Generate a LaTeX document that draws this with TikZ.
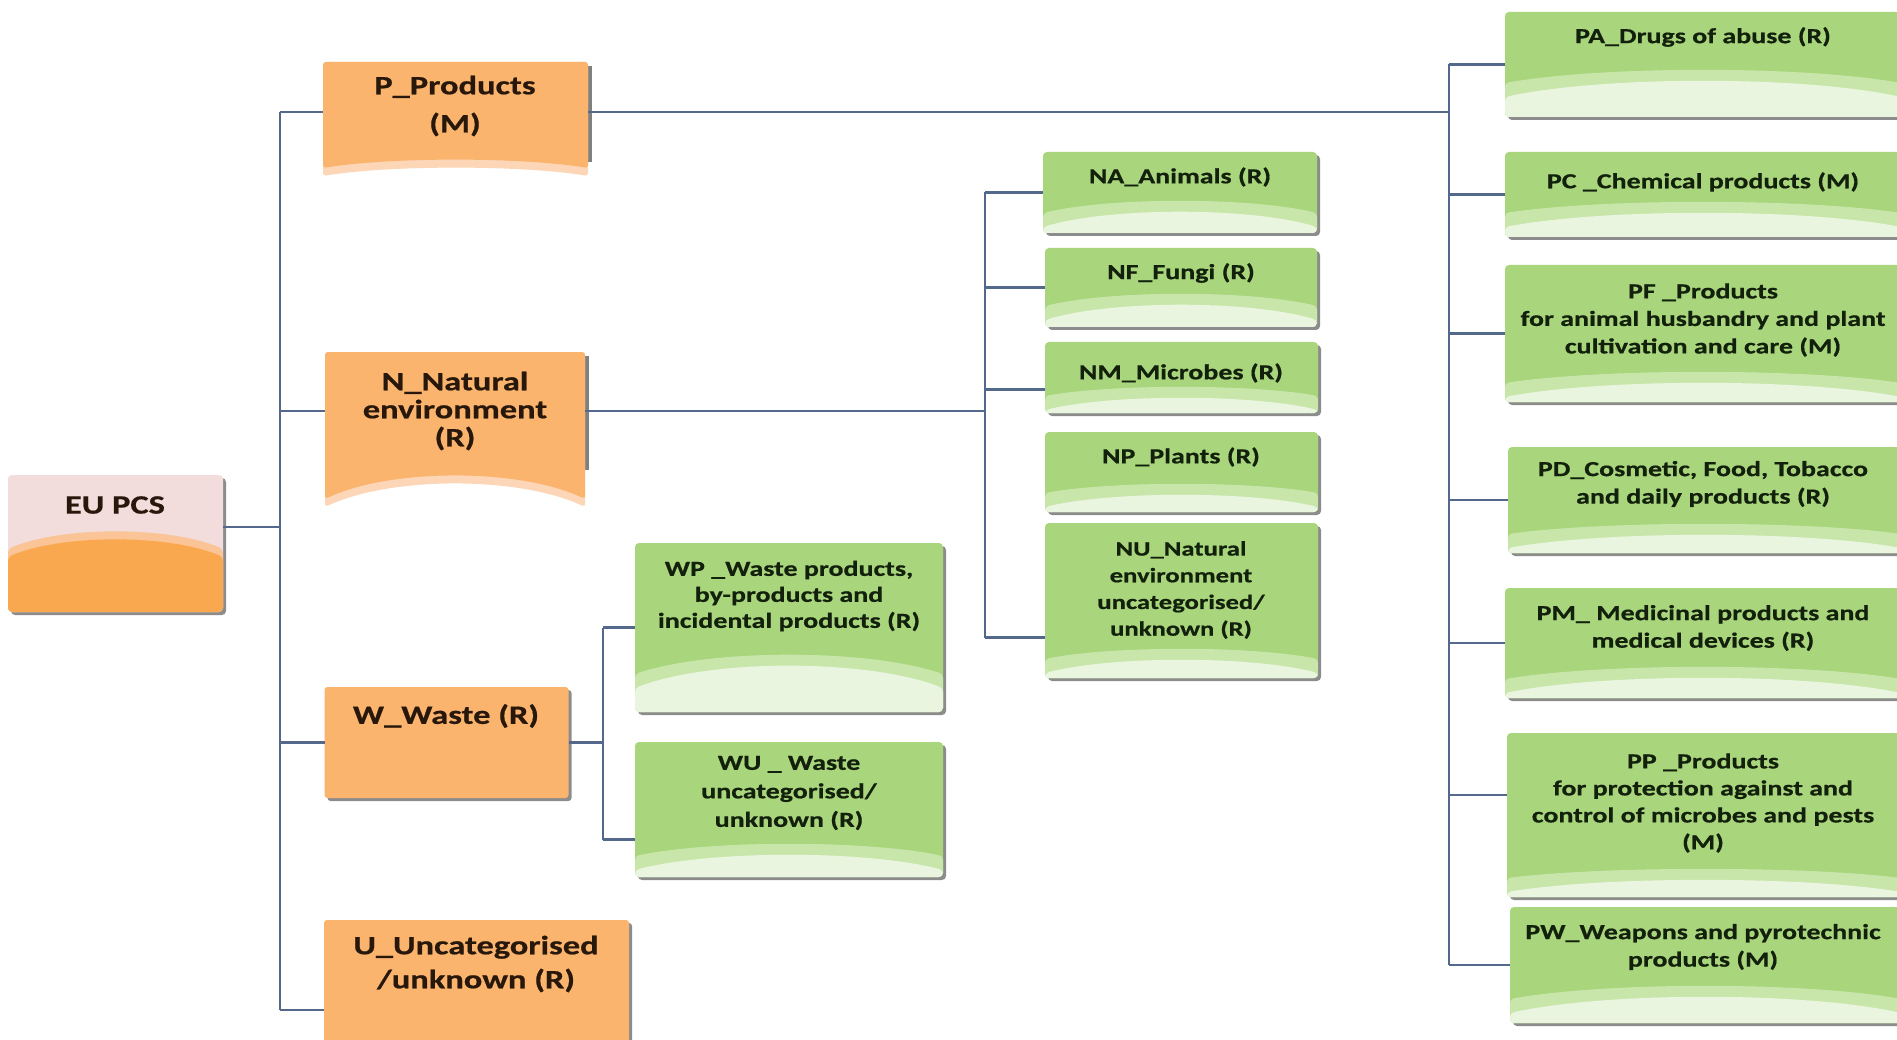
\documentclass[tikz,border=0pt]{standalone}
\usepackage{fontspec}
\newfontfamily\boxfont{Carlito}[FakeStretch=1.3, FakeBold=0.6]
\usetikzlibrary{calc,shadows}
\pgfdeclarelayer{bg}
\pgfsetlayers{bg,main}
\definecolor{lnc}{RGB}{84,104,140}
\definecolor{gA}{RGB}{169,213,125}
\definecolor{gB}{RGB}{200,230,170}
\definecolor{gC}{RGB}{234,245,224}
\definecolor{oA}{RGB}{250,180,110}
\definecolor{oB}{RGB}{252,214,182}
\definecolor{pinkc}{RGB}{242,221,220}
\definecolor{oD}{RGB}{249,168,80}
\definecolor{oE}{RGB}{250,196,150}
\definecolor{shc}{RGB}{128,128,128}
\definecolor{txo}{RGB}{40,24,12}
\definecolor{txg}{RGB}{18,32,12}
\def\domeC{20}\def\domeE{6}
\tikzset{
  conn/.style={draw=lnc, line width=2.2pt},
  dome/.code 2 args={\def\domeC{#1}\def\domeE{#2}},
  gbox/.style={rectangle, rounded corners=4pt, fill=gA, inner sep=0pt, outer sep=0pt,
    drop shadow={shadow xshift=3pt, shadow yshift=-3pt, fill=shc, opacity=0.9},
    path picture={
      \fill[gB] let \p1=(path picture bounding box.south west), \p2=(path picture bounding box.north east),
        \n1={\domeE+14}, \n2={(\domeC+11-0.25*(\domeE+14))/0.75} in
        (\x1,\y1+\n1 pt) .. controls ({0.75*\x1+0.25*\x2},\y1+\n2 pt) and ({0.25*\x1+0.75*\x2},\y1+\n2 pt) .. (\x2,\y1+\n1 pt) -- (\x2,\y1) -- (\x1,\y1) -- cycle;
      \fill[gC] let \p1=(path picture bounding box.south west), \p2=(path picture bounding box.north east),
        \n1={\domeE}, \n2={(\domeC-0.25*\domeE)/0.75} in
        (\x1,\y1+\n1 pt) .. controls ({0.75*\x1+0.25*\x2},\y1+\n2 pt) and ({0.25*\x1+0.75*\x2},\y1+\n2 pt) .. (\x2,\y1+\n1 pt) -- (\x2,\y1) -- (\x1,\y1) -- cycle;
    }},
  eubox/.style={rectangle, rounded corners=4pt, fill=pinkc, inner sep=0pt, outer sep=0pt,
    drop shadow={shadow xshift=3pt, shadow yshift=-3pt, fill=shc, opacity=0.9},
    path picture={
      \fill[oE] let \p1=(path picture bounding box.south west), \p2=(path picture bounding box.north east) in
        (\x1,\y1+63pt) .. controls ({0.75*\x1+0.25*\x2},\y1+86pt) and ({0.25*\x1+0.75*\x2},\y1+86pt) .. (\x2,\y1+63pt) -- (\x2,\y1) -- (\x1,\y1) -- cycle;
      \fill[oD] let \p1=(path picture bounding box.south west), \p2=(path picture bounding box.north east) in
        (\x1,\y1+55pt) .. controls ({0.75*\x1+0.25*\x2},\y1+78pt) and ({0.25*\x1+0.75*\x2},\y1+78pt) .. (\x2,\y1+55pt) -- (\x2,\y1) -- (\x1,\y1) -- cycle;
    }},
  obox/.style={rectangle, rounded corners=3pt, fill=oA, inner sep=0pt, outer sep=0pt,
    drop shadow={shadow xshift=3pt, shadow yshift=-3pt, fill=shc, opacity=0.9}},
  cbox/.style={rectangle, inner sep=0pt, outer sep=0pt},
  otext/.style={align=center, text=txo, inner sep=0pt,
    font={\boxfont\bfseries\fontsize{26.5}{28}\selectfont}},
  gtext/.style={align=center, text=txg, inner sep=0pt,
    font={\boxfont\bfseries\fontsize{21.5}{27.5}\selectfont}},
}
% #1 node, #2 corner extension below node, #3 control height (cubic)
\newcommand\concavefill[3]{%
  \fill[shc] ($(#1.north east)+(0,4)$) rectangle ($(#1.south east)+(4,0)$);
  \fill[oB, rounded corners=3pt] (#1.north west) -- (#1.north east) -- ($(#1.south east)+(0,#2)$)
    .. controls ($(#1.south)!0.5!(#1.south east)+(0,#3)$) and ($(#1.south)!0.5!(#1.south west)+(0,#3)$) .. ($(#1.south west)+(0,#2)$) -- cycle;
  \fill[oA, rounded corners=3pt] (#1.north west) -- (#1.north east) -- ($(#1.south east)+(0,#2-8)$)
    .. controls ($(#1.south)!0.5!(#1.south east)+(0,#3-8)$) and ($(#1.south)!0.5!(#1.south west)+(0,#3-8)$) .. ($(#1.south west)+(0,#2-8)$) -- cycle;
}
\begin{document}
\begin{tikzpicture}[x=1pt, y=-1pt]
\begin{pgfonlayer}{bg}
  \fill[white] (0,0) rectangle (1897,1040);
\end{pgfonlayer}
\clip (0,0) rectangle (1897,1040);

% level 0 and 1
\node[eubox, minimum width=215, minimum height=137] (EU) at (115.5,543.5) {};
\node[cbox, minimum width=265, minimum height=100] (P) at (455.5,112) {};
\node[cbox, minimum width=260, minimum height=118] (N) at (455,411) {};
\node[obox, minimum width=244, minimum height=111] (W) at (446.5,742.5) {};
\node[obox, minimum width=305, minimum height=180] (U) at (476.5,1010) {};
\begin{pgfonlayer}{bg}
  \concavefill{P}{14}{3}
  \concavefill{N}{37}{6}
\end{pgfonlayer}

% natural environment children
\node[gbox, dome={21}{6}, minimum width=274, minimum height=81] (NA) at (1180,192.5) {};
\node[gbox, dome={22}{7}, minimum width=272, minimum height=79] (NF) at (1181,287.5) {};
\node[gbox, dome={15}{3}, minimum width=273, minimum height=71] (NM) at (1181.5,377.5) {};
\node[gbox, dome={17}{5}, minimum width=273, minimum height=80] (NP) at (1181.5,472) {};
\node[gbox, dome={18}{5}, minimum width=273, minimum height=155] (NU) at (1181.5,600.5) {};

% waste children
\node[gbox, dome={46}{24}, minimum width=308, minimum height=169] (WP) at (789,627.5) {};
\node[gbox, dome={22}{7}, minimum width=308, minimum height=135] (WU) at (789,809.5) {};

% products children
\node[gbox, dome={36}{20}, minimum width=396, minimum height=105] (PA) at (1703,64.5) {};
\node[gbox, dome={24}{10}, minimum width=396, minimum height=85] (PC) at (1703,194.5) {};
\node[gbox, dome={19}{5}, minimum width=396, minimum height=137] (PF) at (1703,333.5) {};
\node[gbox, dome={18}{5}, minimum width=393, minimum height=106] (PD) at (1704.5,500) {};
\node[gbox, dome={20}{5}, minimum width=396, minimum height=110] (PM) at (1703,643) {};
\node[gbox, dome={17}{5}, minimum width=394, minimum height=164] (PP) at (1704,815) {};
\node[gbox, dome={26}{10}, minimum width=391, minimum height=116] (PW) at (1705.5,965) {};

% texts
\node[otext] (EU-t) at (115,505) {EU PCS};
\node[otext, font={\boxfont\bfseries\fontsize{26.5}{38}\selectfont}] (P-t) at (455,106) {P\_Products\\(M)};
\node[otext] (N-t) at (455,411) {N\_Natural\\environment\\(R)};
\node[otext] (W-t) at (446,716) {W\_Waste (R)};
\node[otext, font={\boxfont\bfseries\fontsize{26.5}{34}\selectfont}] (U-t) at (476,964) {U\_Uncategorised\\/unknown (R)};

\node[gtext] (NA-t) at (1180,177) {NA\_Animals (R)};
\node[gtext] (NF-t) at (1181,273) {NF\_Fungi (R)};
\node[gtext] (NM-t) at (1181,373) {NM\_Microbes (R)};
\node[gtext] (NP-t) at (1181,457) {NP\_Plants (R)};
\node[gtext, font={\boxfont\bfseries\fontsize{20.5}{26.7}\selectfont}] (NU-t) at (1181,590) {NU\_Natural\\environment\\uncategorised/\\unknown (R)};

\node[gtext, font={\boxfont\bfseries\fontsize{21.5}{26}\selectfont}] (WP-t) at (789,596) {WP \_Waste products,\\by-products and\\incidental products (R)};
\node[gtext, font={\boxfont\bfseries\fontsize{21.5}{28.5}\selectfont}] (WU-t) at (789,793) {WU \_ Waste\\uncategorised/\\unknown (R)};

\node[gtext] (PA-t) at (1703,37) {PA\_Drugs of abuse (R)};
\node[gtext] (PC-t) at (1703,182) {PC \_Chemical products (M)};
\node[gtext] (PF-t) at (1703,320) {PF \_Products\\for animal husbandry and plant\\cultivation and care (M)};
\node[gtext] (PD-t) at (1703,484) {PD\_Cosmetic, Food, Tobacco\\and daily products (R)};
\node[gtext] (PM-t) at (1703,628) {PM\_ Medicinal products and\\medical devices (R)};
\node[gtext, font={\boxfont\bfseries\fontsize{21.5}{27}\selectfont}] (PP-t) at (1703,803) {PP \_Products\\for protection against and\\control of microbes and pests\\(M)};
\node[gtext] (PW-t) at (1703,947) {PW\_Weapons and pyrotechnic\\products (M)};

% junction coordinates
\coordinate (j0) at (280,527);
\coordinate (jp) at (1449,112);
\coordinate (jn) at (985,410);
\coordinate (jw) at (603,742);
\coordinate (PPc) at ([yshift=20pt]PP.west);
\coordinate (NMc) at ([yshift=-12pt]NM.west);
\coordinate (NUc) at ([yshift=-37pt]NU.west);
\coordinate (WUc) at ([yshift=-30pt]WU.west);

% connectors: root
\draw[conn] (EU.east |- j0) -- (j0);
\draw[conn] (P.west -| j0) -- (U.west -| j0);
\foreach \n in {P,N,W,U} \draw[conn] (\n.west -| j0) -- (\n.west);

% products
\draw[conn] (P.east) -- (jp);
\draw[conn] (PA.west -| jp) -- (PW.west -| jp);
\foreach \n in {PA,PC,PF,PD,PM,PW} \draw[conn] (\n.west -| jp) -- (\n.west);
\draw[conn] (PPc -| jp) -- (PPc);

% natural environment
\draw[conn] (N.east) -- (N.east -| jn);
\draw[conn] (NA.west -| jn) -- (NUc -| jn);
\draw[conn] (NA.west -| jn) -- (NA.west);
\draw[conn] (NF.west -| jn) -- (NF.west);
\draw[conn] (NMc -| jn) -- (NMc);
\draw[conn] (NUc -| jn) -- (NUc);

% waste
\draw[conn] (W.east) -- (W.east -| jw);
\draw[conn] (WP.west -| jw) -- (WUc -| jw);
\draw[conn] (WP.west -| jw) -- (WP.west);
\draw[conn] (WUc -| jw) -- (WUc);
\end{tikzpicture}
\end{document}
